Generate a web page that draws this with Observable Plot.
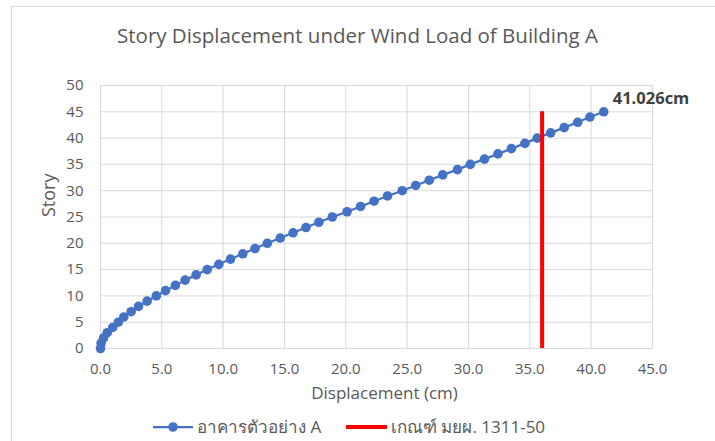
<!DOCTYPE html>
<html>
<head>
<meta charset="utf-8">
<script src="https://cdn.jsdelivr.net/npm/d3@7"></script>
<script src="https://cdn.jsdelivr.net/npm/@observablehq/plot@0.6"></script>
<style>
  html, body { margin: 0; padding: 0; background: #fff; }
  body { width: 715px; height: 441px; overflow: hidden; position: relative; font-family: "Open Sans", "Noto Sans", "DejaVu Sans", sans-serif; }
  #frame { position: absolute; left: 11px; top: 6px; width: 720px; height: 450px; border-left: 1px solid #d9d9d9; border-top: 1px solid #d9d9d9; box-sizing: border-box; }
  #title { position: absolute; left: 0; top: 0; width: 715px; height: 60px; text-align: center; color: #595959; font-size: 20.5px; line-height: 20px; padding-top: 25px; box-sizing: border-box; }
  #chart { position: absolute; left: 0; top: 60px; }
  #legend { position: absolute; left: 0; top: 400px; width: 715px; height: 41px; color: #595959; font-size: 17px; }
  .item { position: absolute; top: 13px; display: flex; align-items: center; white-space: nowrap; }
</style>
</head>
<body>
<div id="frame"></div>
<div id="title"></div>
<div id="chart"></div>
<div id="legend"></div>
<script>
const titleText = "Story Displacement under Wind Load of Building A";
const xLabel = "Displacement (cm)";
const yLabel = "Story";
const seriesName = "อาคารตัวอย่าง A";
const limitName = "เกณฑ์ มยผ. 1311-50";
const peakLabel = "41.026cm";

const stories = d3.range(0, 46);
const displacement = [
  0, 0.05, 0.25, 0.55, 1.0, 1.45, 1.9, 2.5, 3.1, 3.8,
  4.55, 5.3, 6.1, 6.9, 7.8, 8.7, 9.65, 10.6, 11.6, 12.6,
  13.6, 14.65, 15.7, 16.75, 17.8, 18.9, 20.1, 21.2, 22.3, 23.4,
  24.6, 25.7, 26.8, 27.9, 29.1, 30.15, 31.3, 32.4, 33.5, 34.6,
  35.6, 36.7, 37.8, 38.9, 39.9, 41.026
];
const limitX = [36];
const limitTop = 45;
const xTicks = [0, 5, 10, 15, 20, 25, 30, 35, 40, 45];
const yTicks = [0, 5, 10, 15, 20, 25, 30, 35, 40, 45, 50];

const data = stories.map((s, i) => ({story: s, disp: displacement[i]}));
const last = data[data.length - 1];

document.getElementById("title").textContent = titleText;

const blue = "#4472C4";
const grid = "#d9d9d9";
const textColor = "#595959";

const chart = Plot.plot({
  width: 715,
  height: 340,
  marginLeft: 100,
  marginRight: 63,
  marginTop: 25,
  marginBottom: 52,
  style: {fontFamily: "'Open Sans', 'Noto Sans', sans-serif", fontSize: "15px", color: textColor, background: "transparent", overflow: "visible"},
  x: {domain: [0, 45], label: null},
  y: {domain: [0, 50], label: null},
  marks: [
    Plot.gridX(xTicks, {stroke: grid, strokeOpacity: 1, strokeWidth: 1}),
    Plot.gridY(yTicks, {stroke: grid, strokeOpacity: 1, strokeWidth: 1}),
    Plot.axisX({ticks: xTicks, tickSize: 0, tickPadding: 15, tickFormat: d => d.toFixed(1), label: null}),
    Plot.axisY({ticks: yTicks, tickSize: 0, tickPadding: 17, label: null}),
    Plot.text([xLabel], {frameAnchor: "bottom", dx: 8, dy: 45, lineAnchor: "middle", fontSize: 17, fill: textColor}),
    Plot.text([yLabel], {frameAnchor: "left", dx: -51, rotate: -90, fontSize: 18, fill: textColor}),
    Plot.line(data, {x: "disp", y: "story", stroke: blue, strokeWidth: 2.25}),
    Plot.dot(data, {x: "disp", y: "story", r: 4.8, fill: blue, stroke: "none"}),
    Plot.ruleX(limitX, {y1: 0, y2: limitTop, stroke: "#FF0000", strokeWidth: 4}),
    Plot.text([last], {x: "disp", y: "story", text: () => peakLabel, dx: 9, dy: -13, textAnchor: "start", fontWeight: "bold", fontSize: 16.5, fill: "#404040"})
  ]
});
document.getElementById("chart").appendChild(chart);

const legend = document.getElementById("legend");
legend.innerHTML = `
  <div class="item" style="left:153px">
    <svg width="41" height="12"><line x1="0" y1="6" x2="40" y2="6" stroke="${blue}" stroke-width="2.25"/><circle cx="20" cy="6" r="4.8" fill="${blue}"/></svg>
    <span style="margin-left:3px">${seriesName}</span>
  </div>
  <div class="item" style="left:346px">
    <svg width="42" height="12"><line x1="0" y1="6" x2="41" y2="6" stroke="#FF0000" stroke-width="4"/></svg>
    <span style="margin-left:3px">${limitName}</span>
  </div>`;
</script>
</body>
</html>
